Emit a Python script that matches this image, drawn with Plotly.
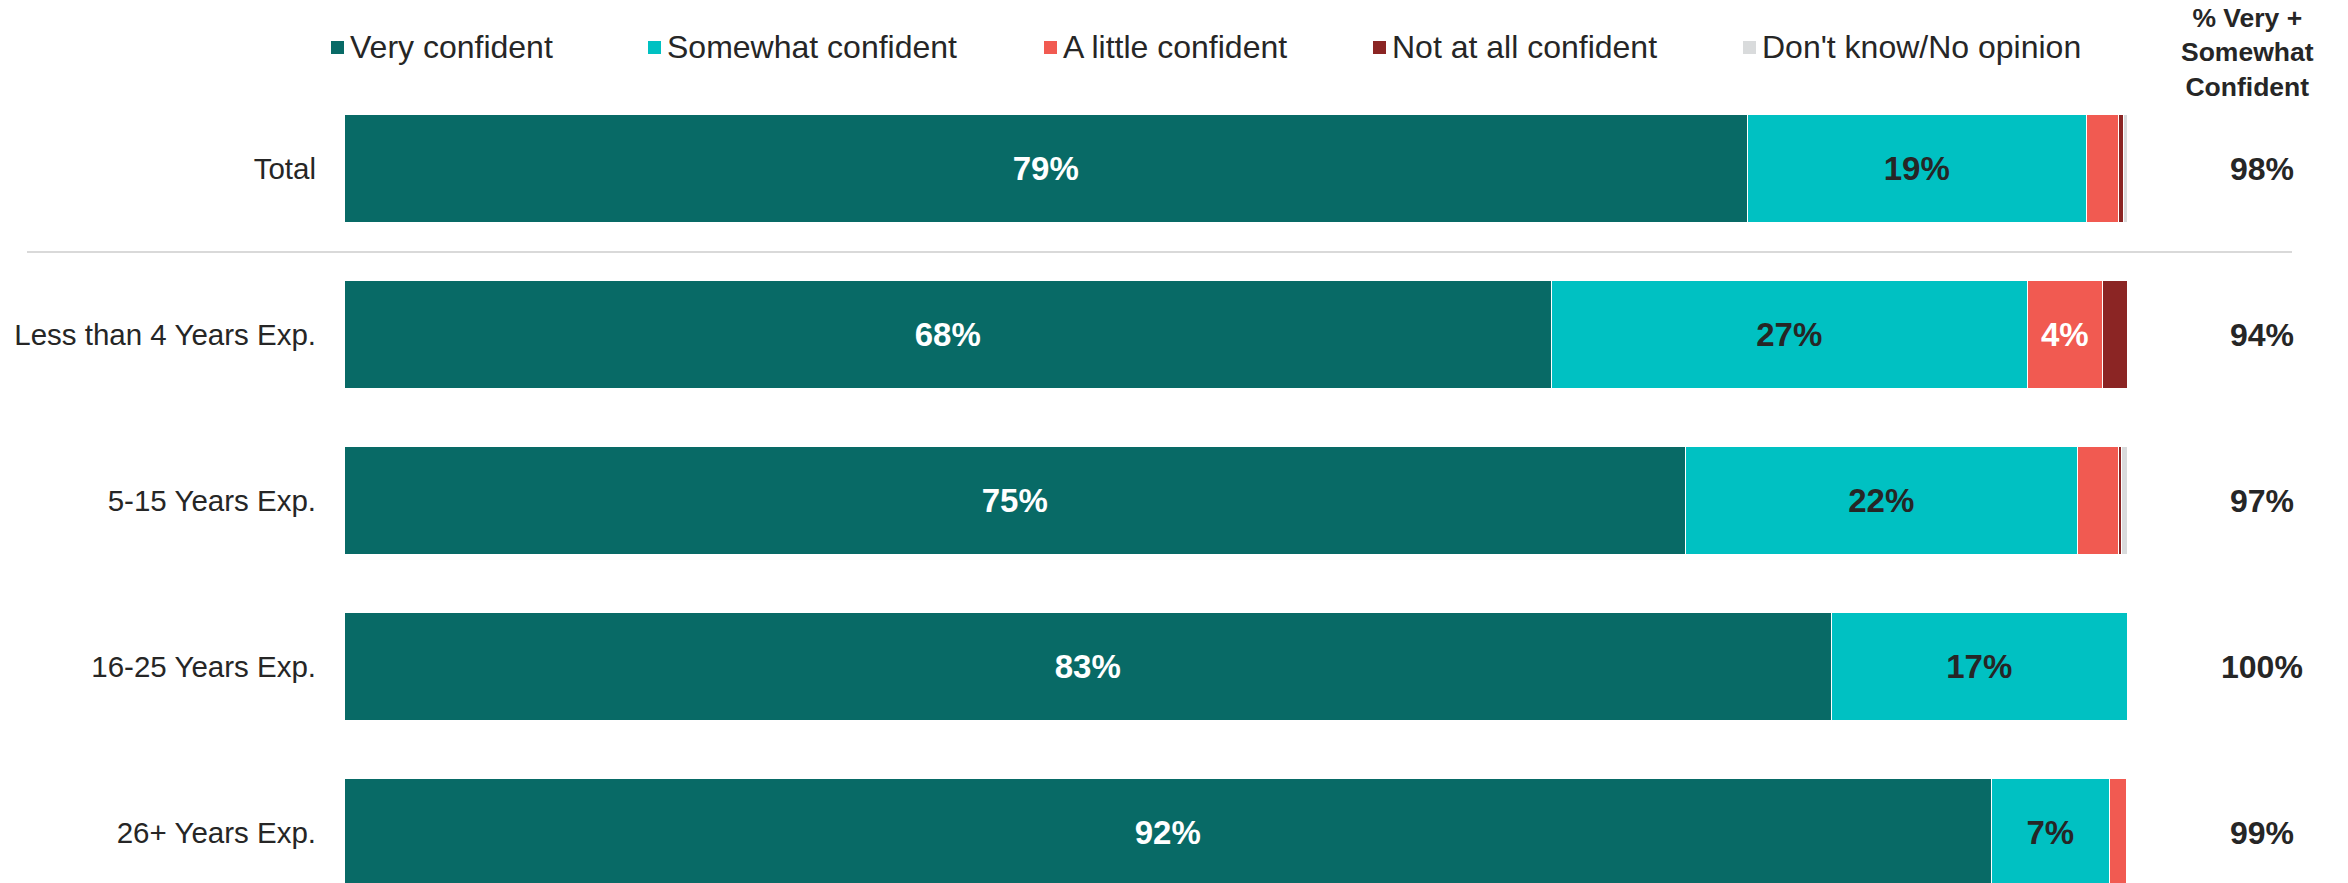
import plotly.graph_objects as go

# Survey groups (top to bottom) and response shares in percent
groups = ["Total", "Less than 4 Years Exp.", "5-15 Years Exp.",
          "16-25 Years Exp.", "26+ Years Exp."]
very_confident = [78.7, 67.7, 75.2, 83.4, 92.4]
somewhat_confident = [19.0, 26.7, 22.0, 16.6, 6.6]
little_confident = [1.8, 4.2, 2.3, 0.0, 0.95]
not_confident = [0.3, 1.4, 0.15, 0.0, 0.0]
dont_know = [0.2, 0.0, 0.35, 0.15, 0.0]

series_names = ["Very confident", "Somewhat confident", "A little confident",
                "Not at all confident", "Don't know/No opinion"]
series_values = [very_confident, somewhat_confident, little_confident,
                 not_confident, dont_know]
series_colors = ["#086a66", "#00c1c2", "#f15a51", "#8b2524", "#d9dbdc"]
label_colors = ["#ffffff", "#262626", "#ffffff", "#ffffff", "#262626"]

top_two = [v + s for v, s in zip(very_confident, somewhat_confident)]

W, H = 2348, 883
M_L, M_R, M_T, M_B = 345, 220, 86, 0
PLOT_W = W - M_L - M_R
PLOT_H = H - M_T - M_B
ROW_PITCH = 166  # px between bar centres

def px_x(x):
    return (x - M_L) / PLOT_W

def px_y(y):
    return 1 - (y - M_T) / PLOT_H

ypos = list(range(len(groups)))

fig = go.Figure()
for name, vals, col, tcol in zip(series_names, series_values,
                                 series_colors, label_colors):
    labels = [f"<b>{v:.0f}%</b>" if v >= 3.5 else "" for v in vals]
    fig.add_trace(go.Bar(
        y=ypos, x=vals, orientation="h", name=name,
        marker=dict(color=col, line=dict(color="#ffffff", width=1.5)),
        width=0.65,
        text=labels, textposition="inside", insidetextanchor="middle",
        textangle=0, constraintext="none",
        textfont=dict(family="Liberation Sans, Arial", size=33, color=tcol),
        hoverinfo="skip", showlegend=False,
    ))

# Right-hand column: very + somewhat confident
for i, tv in enumerate(top_two):
    fig.add_annotation(
        x=px_x(2262), xref="paper", y=i, yref="y",
        text=f"<b>{tv:.0f}%</b>", showarrow=False,
        xanchor="center", yanchor="middle",
        font=dict(family="Liberation Sans, Arial", size=32, color="#262626"),
    )

fig.add_annotation(
    x=px_x(2247), xref="paper", y=px_y(53), yref="paper",
    text="<b>% Very +<br>Somewhat<br>Confident</b>", showarrow=False,
    xanchor="center", yanchor="middle", align="center",
    font=dict(family="Liberation Sans, Arial", size=26.5, color="#262626"),
)

# Divider between the total and the experience groups
fig.add_shape(
    type="line", xref="paper", yref="y",
    x0=px_x(27), x1=px_x(2292), y0=0.5, y1=0.5,
    line=dict(color="#d9d9d9", width=2),
)

# Legend row
legend_left = [331, 648, 1044, 1373, 1743]
for name, col, lx in zip(series_names, series_colors, legend_left):
    fig.add_shape(
        type="rect", xref="paper", yref="paper",
        x0=px_x(lx), x1=px_x(lx + 13), y0=px_y(54), y1=px_y(41),
        fillcolor=col, line=dict(width=0),
    )
    fig.add_annotation(
        x=px_x(lx + 17), xref="paper", y=px_y(47), yref="paper",
        text=name, showarrow=False, xanchor="left", yanchor="middle",
        font=dict(family="Liberation Sans, Arial", size=32, color="#262626"),
    )

fig.update_layout(
    width=W, height=H,
    margin=dict(l=M_L, r=M_R, t=M_T, b=M_B, pad=0),
    barmode="stack", bargap=0,
    paper_bgcolor="#ffffff", plot_bgcolor="#ffffff",
    showlegend=False,
    xaxis=dict(range=[0, 100], visible=False, fixedrange=True),
    yaxis=dict(
        range=[-0.5 + PLOT_H / ROW_PITCH, -0.5],
        tickvals=ypos, ticktext=groups,
        showgrid=False, zeroline=False, showline=False,
        ticks="", ticklabelstandoff=28,
        tickfont=dict(family="Liberation Sans, Arial", size=29.5, color="#262626"),
    ),
)

fig.write_html("out.html")
